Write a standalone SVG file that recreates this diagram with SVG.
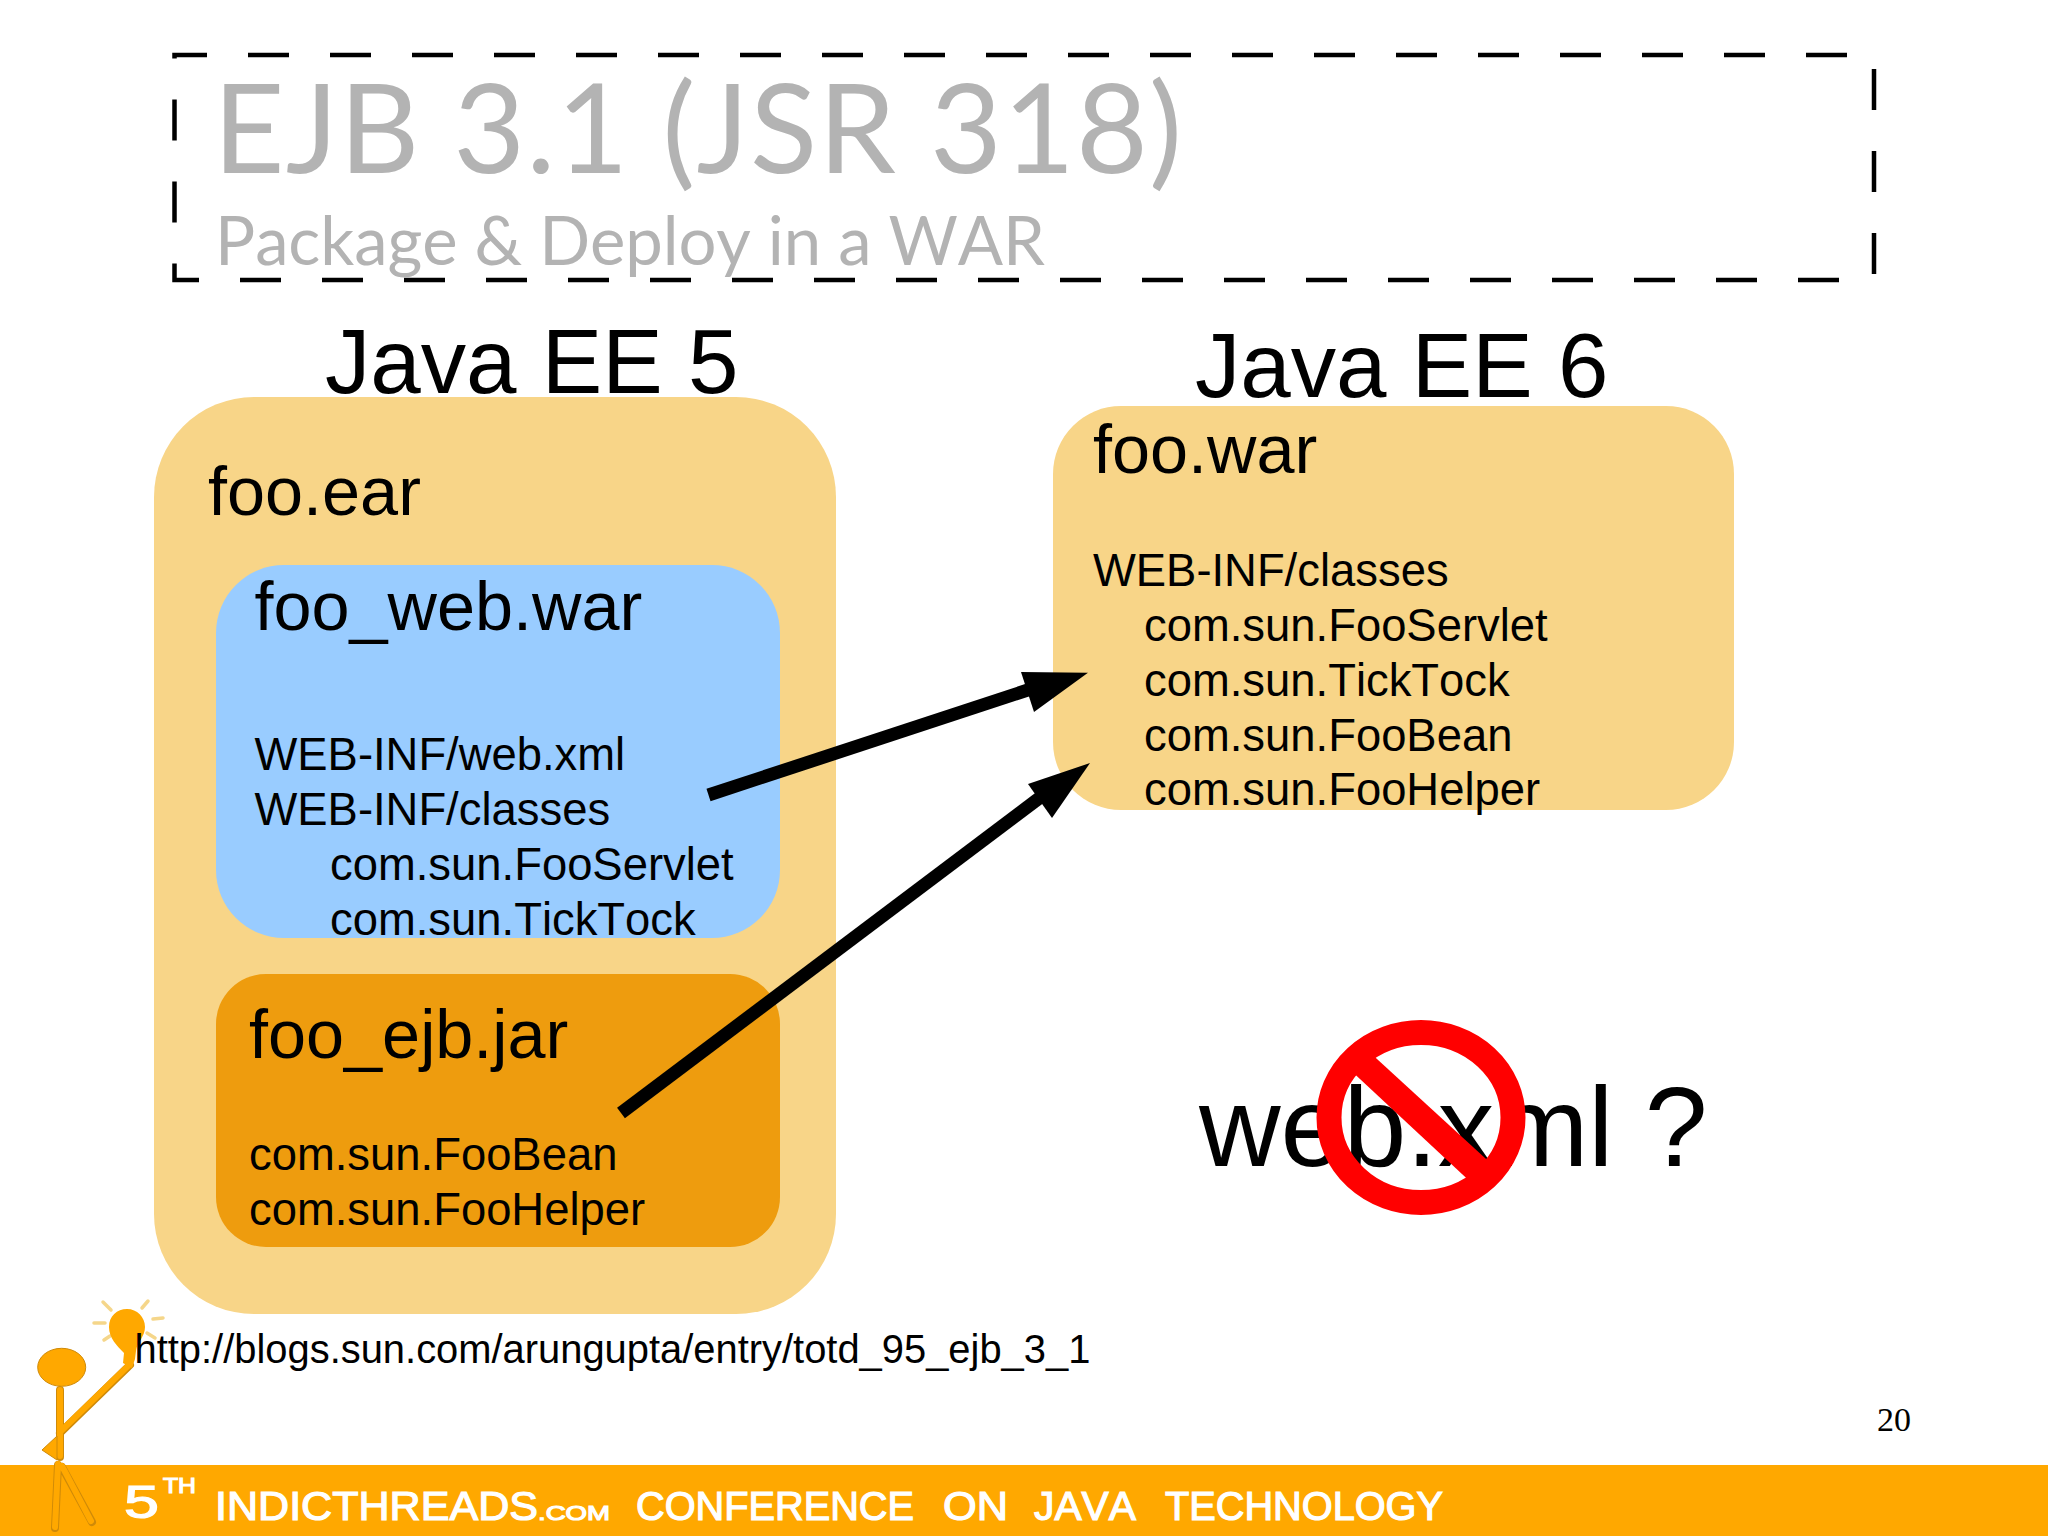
<svg xmlns="http://www.w3.org/2000/svg" width="2048" height="1536" viewBox="0 0 2048 1536">
<style>
text{font-family:"Liberation Sans",Arial,sans-serif;fill:#000;font-kerning:none}
.h1{font-size:90.7px}
.h2{font-size:68.4px}
.b{font-size:45.4px}
.t{font-family:Lato,"Noto Sans",sans-serif;fill:#b3b3b3}
.bn{fill:#fff;stroke:#fff;stroke-width:1.2;font-size:40px}
.tan{fill:#f8d588}
.ray{stroke:#f5d68a;stroke-width:3.5;fill:none;stroke-linecap:round}
.edge{stroke:#cf8a08;fill:none;stroke-linecap:round;stroke-linejoin:round}
.limb{stroke:#ffa800;fill:none;stroke-linecap:round;stroke-linejoin:round}
</style>
<rect width="2048" height="1536" fill="#fff"/>
<g id="banner">
<rect x="0" y="1465" width="2048" height="71" fill="#ffa800"/>
<text class="bn" x="124" y="1518" style="font-size:46px" textLength="35" lengthAdjust="spacingAndGlyphs">5</text>
<text class="bn" x="163" y="1493" style="font-size:22px" textLength="33" lengthAdjust="spacingAndGlyphs">TH</text>
<text class="bn" x="215" y="1520" textLength="323" lengthAdjust="spacingAndGlyphs">INDICTHREADS</text>
<text class="bn" x="538" y="1520" style="font-size:21px" textLength="72" lengthAdjust="spacingAndGlyphs">.COM</text>
<text class="bn" x="636" y="1520" textLength="278" lengthAdjust="spacingAndGlyphs">CONFERENCE</text>
<text class="bn" x="943" y="1520" textLength="65" lengthAdjust="spacingAndGlyphs">ON</text>
<text class="bn" x="1034" y="1520" textLength="102" lengthAdjust="spacingAndGlyphs">JAVA</text>
<text class="bn" x="1165" y="1520" textLength="278" lengthAdjust="spacingAndGlyphs">TECHNOLOGY</text>
</g>
<g id="title">
<path d="M174.5 55H1874V280H174.5Z" fill="none" stroke="#000" stroke-width="4.5" stroke-dasharray="41 41" stroke-dashoffset="8.5"/>
<text class="t" x="213" y="173" style="font-size:124px" textLength="969">EJB 3.1 (JSR 318)</text>
<text class="t" x="215" y="265" style="font-size:67px" textLength="830">Package &amp; Deploy in a WAR</text>
</g>
<g id="figure">
<path class="ray" d="M103 1302l8 8M148 1301l-6 7M94 1323h11M153 1319l10-1M104 1340l6-4M147 1333l8 5"/>
<path class="edge" stroke-width="8" d="M130 1365L60 1433M60 1390V1457M58 1465L55 1528M62 1467L92 1522"/>
<path class="limb" stroke-width="6" d="M130 1364L60 1432M60 1390V1456M58 1464L55 1527M62 1466L91 1521"/>
<path d="M109 1327c0-11 8-18 18-18 10 0 18 8 18 18 0 10-8 15-9 24l-1 8-3 9-9-5 1-10c-7-7-15-15-15-26Z" fill="#ffa800"/>
<polygon points="57,1436 42,1450 57,1460" fill="#ffa800" stroke="#cf8a08" stroke-width="1"/>
<ellipse cx="61.7" cy="1367.3" rx="24" ry="19" fill="#ffa800" stroke="#cf8a08" stroke-width="1"/>
</g>
<g id="foo-ear">
<rect class="tan" x="154" y="397" width="682" height="917" rx="100" ry="100"/>
<text class="h2" x="208" y="514.5">foo.ear</text>
</g>
<g id="foo-web-war">
<rect x="216" y="565" width="564" height="373" rx="68" ry="68" fill="#99ccff"/>
<text class="h2" x="254.5" y="630">foo_web.war</text>
<text class="b" x="254.5" y="770">WEB-INF/web.xml</text>
<text class="b" x="254.5" y="825">WEB-INF/classes</text>
<text class="b" x="330" y="880">com.sun.FooServlet</text>
<text class="b" x="330" y="935">com.sun.TickTock</text>
</g>
<g id="foo-ejb-jar">
<rect x="216" y="974" width="564" height="273" rx="50" ry="50" fill="#ee9c0e"/>
<text class="h2" x="249" y="1058">foo_ejb.jar</text>
<text class="b" x="249" y="1170">com.sun.FooBean</text>
<text class="b" x="249" y="1225">com.sun.FooHelper</text>
</g>
<g id="foo-war">
<rect class="tan" x="1053" y="406" width="681" height="404" rx="68" ry="68"/>
<text class="h2" x="1093" y="473">foo.war</text>
<text class="b" x="1093" y="586">WEB-INF/classes</text>
<text class="b" x="1144" y="641">com.sun.FooServlet</text>
<text class="b" x="1144" y="696">com.sun.TickTock</text>
<text class="b" x="1144" y="750.5">com.sun.FooBean</text>
<text class="b" x="1144" y="805">com.sun.FooHelper</text>
</g>
<g id="labels">
<text class="h1" x="325" y="393">Java EE 5</text>
<text class="h1" x="1195" y="397">Java EE 6</text>
<text x="134.5" y="1363" style="font-size:39.9px">http://blogs.sun.com/arungupta/entry/totd_95_ejb_3_1</text>
<text x="1877" y="1431" style="font-family:'Liberation Serif',serif;font-size:34px">20</text>
</g>
<g id="connectors">
<path d="M708.5 795L1040 686" stroke="#000" stroke-width="13" fill="none"/>
<polygon points="1088,672.7 1021,672 1034,712"/>
<path d="M621 1113L1050 790" stroke="#000" stroke-width="13" fill="none"/>
<polygon points="1090,763 1028,784 1052,818"/>
</g>
<g id="web-xml">
<text x="1199" y="1166" style="font-size:113px">web.xml ?</text>
<ellipse cx="1421" cy="1117.5" rx="92" ry="85" fill="none" stroke="#ff0000" stroke-width="25"/>
<polygon points="1365,1048 1346,1066 1477,1188 1497,1169" fill="#ff0000"/>
</g>
</svg>
